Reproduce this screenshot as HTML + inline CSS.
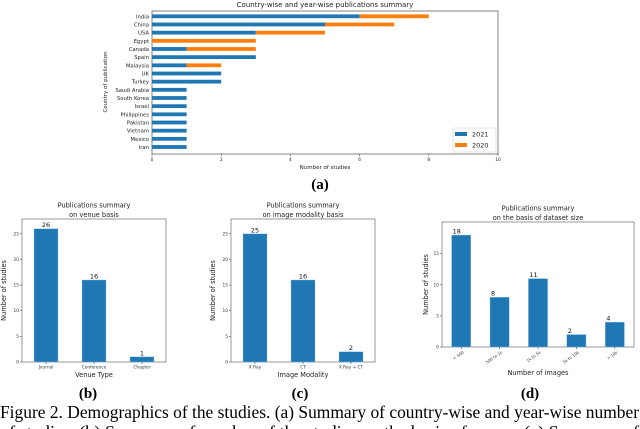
<!DOCTYPE html>
<html><head><meta charset="utf-8"><style>
body{margin:0;background:#fff;width:640px;height:429px;overflow:hidden}
svg{display:block;font-family:"DejaVu Sans","Liberation Sans",sans-serif}
.cap{font-family:"Liberation Serif",serif}
</style></head><body>
<svg id="s" width="640" height="429" viewBox="0 0 640 429">
<text x="325" y="7" font-size="7" text-anchor="middle" fill="#222">Country-wise and year-wise publications summary</text>
<text x="325" y="169" font-size="5.5" text-anchor="middle" fill="#222">Number of studies</text>
<text transform="translate(107,82) rotate(-90)" font-size="5.5" text-anchor="middle" fill="#222">Country of publication</text>
<text class="cap" x="320" y="189" font-size="15" font-weight="bold" text-anchor="middle">(a)</text>
<text class="cap" x="88" y="398" font-size="15" font-weight="bold" text-anchor="middle">(b)</text>
<text class="cap" x="300" y="398" font-size="15" font-weight="bold" text-anchor="middle">(c)</text>
<text class="cap" x="530" y="398" font-size="15" font-weight="bold" text-anchor="middle">(d)</text>
<text class="cap" x="0" y="418" font-size="17.4" textLength="639" lengthAdjust="spacingAndGlyphs">Figure 2. Demographics of the studies. (a) Summary of country-wise and year-wise number</text>
<text class="cap" x="0" y="438" font-size="17.4" textLength="639" lengthAdjust="spacingAndGlyphs">of studies. (b) Summary of number of the studies on the basis of venue. (c) Summary of</text>
</svg>
<script>
const NS="http://www.w3.org/2000/svg";
const svg=document.getElementById('s');
function mk(t,a,txt){const e=document.createElementNS(NS,t);for(const k in a)e.setAttribute(k,a[k]);if(txt!==undefined)e.textContent=txt;svg.appendChild(e);return e;}
const BLUE="#1f77b4",ORANGE="#ff7f0e";

// Chart (a)
const countries=["India","China","USA","Egypt","Canada","Spain","Malaysia","UK","Turkey","Saudi Arabia","South Korea","Israel","Philippines","Pakistan","Vietnam","Mexico","Iran"];
const y2021=[6,5,3,0,1,3,1,2,2,1,1,1,1,1,1,1,1];
const y2020=[2,2,2,3,2,0,1,0,0,0,0,0,0,0,0,0,0];
const xTicksA=[0,2,4,6,8,10];
const A={l:152,r:498,t:11,b:154};
const ax=v=>A.l+(A.r-A.l)*v/10;
const ay=i=>16.3+i*(147-16.3)/16;
let f=mk('rect',{x:A.l,y:A.t,width:A.r-A.l,height:A.b-A.t,fill:"none",stroke:"#333","stroke-width":0.6});

countries.forEach((c,i)=>{
 let t=mk('text',{x:A.l-3,y:ay(i)+2,"font-size":5.3,"text-anchor":"end",fill:"#222"},c);
 
 if(y2021[i]>0){let r=mk('rect',{x:ax(0),y:ay(i)-1.9,width:ax(y2021[i])-ax(0),height:3.8,fill:BLUE});
 }
 if(y2020[i]>0){let r=mk('rect',{x:ax(y2021[i]),y:ay(i)-1.9,width:ax(y2021[i]+y2020[i])-ax(y2021[i]),height:3.8,fill:ORANGE});
 }
});
xTicksA.forEach(v=>{mk('line',{x1:ax(v),x2:ax(v),y1:A.b,y2:A.b+2,stroke:"#333","stroke-width":0.5});
 let t=mk('text',{x:ax(v),y:A.b+7,"font-size":4.3,"text-anchor":"middle",fill:"#222"},v);
 });
let lg=mk('rect',{x:453,y:128,width:43,height:24,fill:"#fff",stroke:"#ccc","stroke-width":0.5,rx:1});

[["2021",BLUE,134],["2020",ORANGE,145]].forEach(([n,c,y])=>{
 let r=mk('rect',{x:455,y:y-2,width:12,height:4,fill:c});
 let t=mk('text',{x:472,y:y+2.5,"font-size":6.5,fill:"#222"},n);});

// Bottom charts
const venueCats=["Journal","Conference","Chapter"];
const venueVals=[26,16,1];
const modCats=["X Ray","CT","X Ray + CT"];
const modVals=[25,16,2];
const sizeCats=["< 500","500 to 1k","1k to 5k","5k to 10k","> 10k"];
const sizeVals=[18,8,11,2,4];
const ticksBC=[0,5,10,15,20,25];
const ticksD=[0,5,10,15];

function barChart(id,cfg,cats,vals,ticks){
 const {l,r,t,b,ymax,title,xt,ylx,rot}=cfg;
 const sy=v=>b-(b-t)*v/ymax;
 const n=cats.length,step=(r-l)/n;
 const sx=i=>l+step*(i+0.5);
 const bw=step*0.5;
 let fr=mk('rect',{x:l,y:t,width:r-l,height:b-t,fill:"none",stroke:"#555","stroke-width":0.6});
 
 title.forEach((s,k)=>{let e=mk('text',{x:(l+r)/2,y:t-11.5+k*9.3,"font-size":6.6,"text-anchor":"middle",fill:"#222"},s);
  });
 ticks.forEach(v=>{mk('line',{x1:l-2,x2:l,y1:sy(v),y2:sy(v),stroke:"#333","stroke-width":0.5});
  let e=mk('text',{x:l-3,y:sy(v)+1.5,"font-size":4.3,"text-anchor":"end",fill:"#333"},v);
  });
 cats.forEach((c,i)=>{
  let e=mk('rect',{x:sx(i)-bw/2,y:sy(vals[i]),width:bw,height:sy(0)-sy(vals[i]),fill:BLUE,stroke:"#8fc1e6","stroke-width":0.4});
  
  let v=mk('text',{x:sx(i)-(rot?bw/2-1:0),y:sy(vals[i])-1.5,"font-size":6.5,"text-anchor":rot?"start":"middle",fill:"#111"},vals[i]);
  
  mk('line',{x1:sx(i),x2:sx(i),y1:b,y2:b+2,stroke:"#333","stroke-width":0.5});
  let x;
  if(rot){x=mk('text',{transform:`translate(${sx(i)+3},${b+6}) rotate(-35)`,"font-size":4,"text-anchor":"end",fill:"#333"},c);}
  else{x=mk('text',{x:sx(i),y:b+6.5,"font-size":4.3,"text-anchor":"middle",fill:"#333"},c);}
  
 });
 let xl=mk('text',{x:(l+r)/2,y:cfg.xty,"font-size":6.6,"text-anchor":"middle",fill:"#222"},xt);
 
 let yl=mk('text',{transform:`translate(${ylx},${(t+b)/2}) rotate(-90)`,"font-size":6.6,"text-anchor":"middle",fill:"#222"},"Number of studies");
 
}
barChart('chart-b',{l:22,r:166,t:219,b:362,ymax:27.9,title:["Publications summary","on venue basis"],xt:"Venue Type",xty:377,ylx:6},venueCats,venueVals,ticksBC);
barChart('chart-c',{l:231,r:375,t:219,b:362,ymax:27.9,title:["Publications summary","on image modality basis"],xt:"Image Modality",xty:377,ylx:215},modCats,modVals,ticksBC);
barChart('chart-d',{l:442,r:634,t:222,b:347,ymax:20.1,title:["Publications summary","on the basis of dataset size"],xt:"Number of images",xty:375,ylx:428,rot:true},sizeCats,sizeVals,ticksD);
</script>
</body></html>
